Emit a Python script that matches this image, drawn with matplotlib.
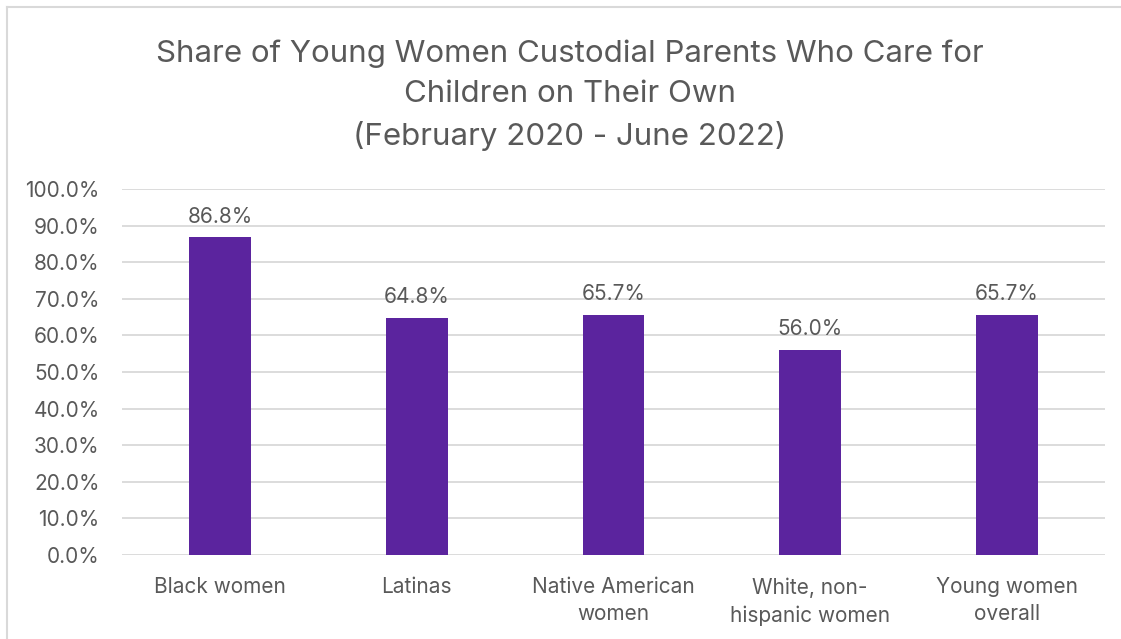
import matplotlib.pyplot as plt
from matplotlib.lines import Line2D

categories = ['Black women', 'Latinas', 'Native American\nwomen',
              'White, non-\nhispanic women', 'Young women\noverall']
shares = [86.8, 64.8, 65.7, 56.0, 65.7]
yticks = [0, 10, 20, 30, 40, 50, 60, 70, 80, 90, 100]

plt.rcParams['font.family'] = ['Inter', 'DejaVu Sans']
txt = '#595959'
purple = '#5B249E'

fig = plt.figure(figsize=(11.21, 6.39), dpi=100)
ax = fig.add_axes([0.1088, 0.1315, 0.8769, 0.5727])

x = range(len(categories))
bars = ax.bar(x, shares, width=0.315, color=purple, zorder=3)
for b, v in zip(bars, shares):
    ax.text(b.get_x() + b.get_width() / 2, v + 2.9, f'{v:.1f}%',
            ha='center', va='bottom', fontsize=15, color=txt)

ax.set_xlim(-0.5, len(categories) - 0.5)
ax.set_ylim(0, 100)
ax.set_yticks(yticks)
ax.set_yticklabels([f'{t:.1f}%' for t in yticks])
ax.set_xticks(list(x))
ax.set_xticklabels(categories, linespacing=1.45)
ax.tick_params(axis='both', length=0, labelsize=15, labelcolor=txt)
ax.tick_params(axis='y', pad=16)
ax.tick_params(axis='x', pad=16)
ax.grid(axis='y', color='#d9d9d9', linewidth=1.3, zorder=0)
for s in ax.spines.values():
    s.set_visible(False)

fig.text(570 / 1121, 1 - 95 / 639,
         'Share of Young Women Custodial Parents Who Care for\n'
         'Children on Their Own\n(February 2020 - June 2022)',
         ha='center', va='center', fontsize=22.5, color=txt, linespacing=1.55)

# outer frame (top and left edges are visible)
fig.add_artist(Line2D([7 / 1121, 1], [1 - 7 / 639] * 2, color='#d9d9d9',
                      linewidth=1.5, transform=fig.transFigure))
fig.add_artist(Line2D([7 / 1121] * 2, [0, 1 - 7 / 639], color='#d9d9d9',
                      linewidth=1.5, transform=fig.transFigure))

fig.savefig('out.png', dpi=100)
